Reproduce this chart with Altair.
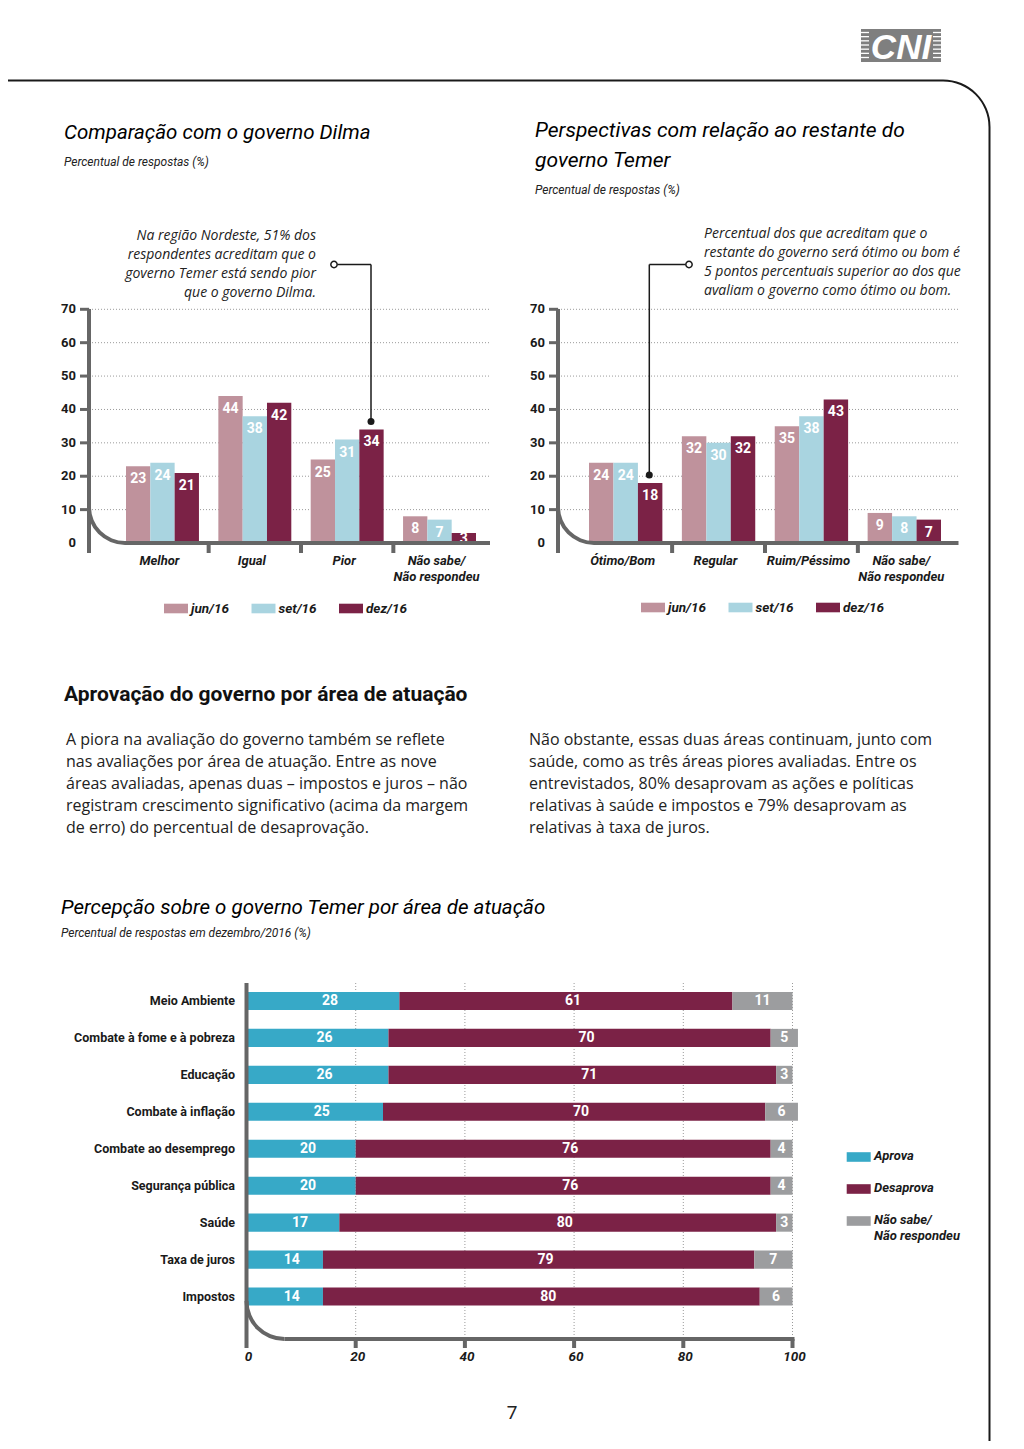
import json
import math
import altair as alt
import pandas as pd

# ---------------- data ----------------
series = ["jun/16", "set/16", "dez/16"]
series_colors = ["#bf929c", "#a9d4e0", "#7b2246"]

cmp_cats = ["Melhor", "Igual", "Pior", "Não sabe/Não respondeu"]
cmp_jun = [23, 44, 25, 8]
cmp_set = [24, 38, 31, 7]
cmp_dez = [21, 42, 34, 3]

persp_cats = ["Ótimo/Bom", "Regular", "Ruim/Péssimo", "Não sabe/Não respondeu"]
persp_jun = [24, 32, 35, 9]
persp_set = [24, 30, 38, 8]
persp_dez = [18, 32, 43, 7]

areas = ["Meio Ambiente", "Combate à fome e à pobreza", "Educação", "Combate à inflação",
         "Combate ao desemprego", "Segurança pública", "Saúde", "Taxa de juros", "Impostos"]
aprova = [28, 26, 26, 25, 20, 20, 17, 14, 14]
desaprova = [61, 70, 71, 70, 76, 76, 80, 79, 80]
nao_sabe = [11, 5, 3, 6, 4, 4, 3, 7, 6]
resp = ["Aprova", "Desaprova", "Não sabe/Não respondeu"]
resp_colors = ["#37a9c7", "#7b2246", "#9c9d9f"]

bar_y_ticks = [0, 10, 20, 30, 40, 50, 60, 70]
hbar_x_ticks = [0, 20, 40, 60, 80, 100]

cmp_title = "Comparação com o governo Dilma"
persp_title = ["Perspectivas com relação ao restante do", "governo Temer"]
subtitle = "Percentual de respostas (%)"
cmp_note = ["Na região Nordeste, 51% dos", "respondentes acreditam que o",
            "governo Temer está sendo pior", "que o governo Dilma."]
persp_note = ["Percentual dos que acreditam que o", "restante do governo será ótimo ou bom é",
              "5 pontos percentuais superior ao dos que", "avaliam o governo como ótimo ou bom."]
section_title = "Aprovação do governo por área de atuação"
para_left = ["A piora na avaliação do governo também se reflete",
             "nas avaliações por área de atuação. Entre as nove",
             "áreas avaliadas, apenas duas – impostos e juros – não",
             "registram crescimento significativo (acima da margem",
             "de erro) do percentual de desaprovação."]
para_right = ["Não obstante, essas duas áreas continuam, junto com",
              "saúde, como as três áreas piores avaliadas. Entre os",
              "entrevistados, 80% desaprovam as ações e políticas",
              "relativas à saúde e impostos e 79% desaprovam as",
              "relativas à taxa de juros."]
hbar_title = "Percepção sobre o governo Temer por área de atuação"
hbar_subtitle = "Percentual de respostas em dezembro/2016 (%)"
page_number = "7"
logo_text = "CNI"

# ---------------- style ----------------
OFF = 8
COND = "Roboto"
TITLE = "Roboto"
BODY = "'Open Sans'"
AX = "#666666"
DARK = "#1a1a1a"
RECT_PATH = "M-1,-0.4H1V0.4H-1Z"
SPLIT = "split(replace(datum.cat, 'sabe/', 'sabe/|'), '|')"

ONE = pd.DataFrame({"_": [0]})


def X(v):
    return alt.value(v - OFF)


def Y(v):
    return alt.value(v - OFF)


def text_layer(text, x, y, size, font, weight="normal", style="normal",
               align="left", color=DARK, lh=None):
    kw = dict(align=align, baseline="middle", fontSize=size, font=font,
              fontWeight=weight, fontStyle=style, color=color)
    if lh:
        kw["lineHeight"] = lh
    return alt.Chart(ONE).mark_text(**kw).encode(x=X(x), y=Y(y), text=alt.value(text))


def hrule(x1, x2, y, color=AX, w=4, dash=None):
    kw = dict(color=color, strokeWidth=w)
    if dash:
        kw["strokeDash"] = dash
    return alt.Chart(ONE).mark_rule(**kw).encode(x=X(x1), x2=X(x2), y=Y(y))


def vrule(x, y1, y2, color=AX, w=4):
    return alt.Chart(ONE).mark_rule(color=color, strokeWidth=w).encode(x=X(x), y=Y(y1), y2=Y(y2))


def corner(cx, cy, r, w, t0, t1, color=AX):
    return alt.Chart(ONE).mark_arc(theta=t0, theta2=t1, radius=r + w / 2, radius2=r - w / 2,
                                   color=color).encode(x=X(cx), y=Y(cy))


def grouped(cats, jun, st, dez, x0, x1, axis_x, x_end, leg0, leg1, leg_y):
    df = pd.DataFrame({"cat": cats * 3,
                       "serie": [s for s in series for _ in cats],
                       "v": jun + st + dez})
    p = 0.21
    xs = alt.Scale(domain=cats, range=[x0 - OFF, x1 - OFF], paddingInner=p, paddingOuter=0)
    ys = alt.Scale(domain=[0, 70], range=[543 - OFF, 309.3 - OFF], nice=False, zero=False)
    cs = alt.Scale(domain=series, range=series_colors)
    xo = alt.XOffset("serie:N", sort=series,
                     scale=alt.Scale(domain=series, paddingInner=0, paddingOuter=0))
    xenc = alt.X("cat:N", scale=xs, axis=None, sort=cats)

    ticks_df = pd.DataFrame({"t": bar_y_ticks})
    grid = alt.Chart(ticks_df).transform_filter("datum.t > 0").mark_rule(
        color="#9a9a9a", strokeDash=[1, 2], strokeWidth=1).encode(
        y=alt.Y("t:Q", scale=ys, axis=None), x=X(axis_x), x2=X(x_end))
    bars = alt.Chart(df).mark_bar().encode(
        x=xenc, xOffset=xo, y=alt.Y("v:Q", scale=ys, axis=None),
        color=alt.Color("serie:N", scale=cs, legend=None))
    vals = alt.Chart(df).transform_calculate(ly="max(datum.v, 5)").mark_text(
        baseline="middle", dy=13, color="white", font=COND, fontSize=14, fontWeight="bold").encode(
        x=xenc, xOffset=xo, y=alt.Y("ly:Q", scale=ys, axis=None), text="v:Q")
    tmarks = alt.Chart(ticks_df).transform_filter("datum.t > 0").mark_rule(
        color=AX, strokeWidth=3).encode(
        y=alt.Y("t:Q", scale=ys, axis=None), x=X(axis_x - 9), x2=X(axis_x))
    tlabels = alt.Chart(ticks_df).mark_text(
        align="right", baseline="middle", font=COND, fontSize=13, fontWeight="bold",
        color=DARK).encode(y=alt.Y("t:Q", scale=ys, axis=None), x=X(axis_x - 13), text="t:Q")
    catlab = alt.Chart(pd.DataFrame({"cat": cats})).transform_calculate(lab=SPLIT).mark_text(
        baseline="top", lineHeight=16, dx=-3, font=COND, fontSize=13, fontWeight="bold",
        fontStyle="italic", color=DARK).encode(x=xenc, y=Y(554.6), text="lab:N")
    panel = alt.layer(grid, bars, vals, tmarks, tlabels, catlab)

    # axis decoration
    n = len(cats)
    step = (x1 - x0) / (n - p)
    deco = [vrule(axis_x, 309, 553), hrule(axis_x + 36, x_end, 543),
            corner(axis_x + 36, 543 - 36, 36, 4, math.pi, 1.5 * math.pi)]
    for i in range(1, n):
        sx = x0 + i * step - p * step / 2
        deco.append(vrule(sx, 543, 553))

    # legend
    lx = alt.X("serie:N", scale=alt.Scale(type="point", domain=series,
                                          range=[leg0 - OFF, leg1 - OFF], padding=0), axis=None)
    ldf = pd.DataFrame({"serie": series})
    sw = alt.Chart(ldf).mark_point(shape=RECT_PATH, filled=True, size=576, opacity=1).encode(
        x=lx, y=Y(leg_y), color=alt.Color("serie:N", scale=cs, legend=None))
    lt = alt.Chart(ldf).mark_text(align="left", baseline="middle", dx=15, font=COND,
                                  fontSize=13.5, fontWeight="bold", fontStyle="italic",
                                  color=DARK).encode(x=lx, y=Y(leg_y), text="serie:N")
    legend = alt.layer(sw, lt)
    return [panel, legend] + deco


layers = []

# frame & logo
layers.append(hrule(0 + OFF, 943, 80.5, color=DARK, w=2))
layers.append(corner(943, 127, 46.5, 2, 0, math.pi / 2, color=DARK))
layers.append(vrule(989.5, 127, 1449, color=DARK, w=2))
layers.append(alt.Chart(ONE).mark_rect(color="#7f7f7f").encode(
    x=X(861), x2=X(941), y=Y(29), y2=Y(62)))
stripe_scale = alt.Scale(domain=[0, 6], range=[32.5 - OFF, 57.5 - OFF])
stripes = pd.DataFrame({"i": list(range(7))})
for a, b in [(861, 869), (933, 941)]:
    layers.append(alt.Chart(stripes).mark_rule(color="white", strokeWidth=1.3).encode(
        y=alt.Y("i:Q", scale=stripe_scale, axis=None), x=X(a), x2=X(b)))
layers.append(text_layer(logo_text, 901, 48, 35, "'Liberation Sans', Arial", weight="bold",
                         style="italic", align="center", color="white"))

# left chart
layers.append(text_layer(cmp_title, 64, 132.5, 20.5, TITLE, style="italic", color="#000"))
layers.append(text_layer(subtitle, 64, 162, 12, COND, style="italic", color="#222"))
layers.append(text_layer(cmp_note, 316, 235.5, 14, BODY, style="italic", align="right",
                         color="#222", lh=19))
layers += grouped(cmp_cats, cmp_jun, cmp_set, cmp_dez, 126, 476, 89, 490, 176, 351, 608.5)
layers.append(hrule(337.5, 371, 264.5, color=DARK, w=1.5))
layers.append(vrule(371, 264.5, 421.5, color=DARK, w=1.5))
layers.append(alt.Chart(ONE).mark_point(shape="circle", size=40, filled=False, color=DARK,
                                        strokeWidth=1.5, opacity=1).encode(x=X(334), y=Y(264.5)))
layers.append(alt.Chart(ONE).mark_point(shape="circle", size=49, filled=True, color=DARK,
                                        opacity=1).encode(x=X(371), y=Y(421.5)))

# right chart
layers.append(text_layer(persp_title, 535, 131, 21, TITLE, style="italic", color="#000", lh=30))
layers.append(text_layer(subtitle, 535, 190, 12, COND, style="italic", color="#222"))
layers.append(text_layer(persp_note, 704, 233.5, 14, BODY, style="italic", align="left",
                         color="#222", lh=19))
layers += grouped(persp_cats, persp_jun, persp_set, persp_dez, 589, 941, 558, 958.5, 653, 828, 607.5)
layers.append(hrule(649.3, 685.5, 264.5, color=DARK, w=1.5))
layers.append(vrule(649.3, 264.5, 475, color=DARK, w=1.5))
layers.append(alt.Chart(ONE).mark_point(shape="circle", size=40, filled=False, color=DARK,
                                        strokeWidth=1.5, opacity=1).encode(x=X(689), y=Y(264.5)))
layers.append(alt.Chart(ONE).mark_point(shape="circle", size=49, filled=True, color=DARK,
                                        opacity=1).encode(x=X(649.3), y=Y(475)))

# section text
layers.append(text_layer(section_title, 64, 695, 21, COND, weight="bold", color="#111"))
layers.append(text_layer(para_left, 66, 740, 16, BODY, color="#222", lh=22))
layers.append(text_layer(para_right, 529, 740, 16, BODY, color="#222", lh=22))

# horizontal stacked chart
layers.append(text_layer(hbar_title, 61, 908, 20.5, TITLE, style="italic", color="#000"))
layers.append(text_layer(hbar_subtitle, 61, 933, 12, COND, style="italic", color="#222"))

hdf = pd.DataFrame({"area": areas * 3,
                    "resp": [r for r in resp for _ in areas],
                    "v": aprova + desaprova + nao_sabe})
xs_b = alt.Scale(domain=[0, 100], range=[246.5 - OFF, 792.5 - OFF], nice=False, zero=False)
ys_b = alt.Scale(domain=areas, range=[982.5 - OFF, 1315 - OFF], paddingInner=0.51, paddingOuter=0.255)
cs_b = alt.Scale(domain=resp, range=resp_colors)
ord_expr = "indexof(" + json.dumps(resp, ensure_ascii=False) + ", datum.resp)"
stacked = alt.Chart(hdf).transform_calculate(ord=ord_expr).transform_stack(
    stack="v", groupby=["area"], as_=["x0", "x1"],
    sort=[alt.SortField("ord", order="ascending")]).transform_calculate(
    mid="(datum.x0 + datum.x1) / 2")
yb = alt.Y("area:N", scale=ys_b, axis=None, sort=areas)
xt_df = pd.DataFrame({"t": hbar_x_ticks})
hgrid = alt.Chart(xt_df).transform_filter("datum.t > 0").mark_rule(
    color="#9a9a9a", strokeDash=[1, 2], strokeWidth=1).encode(
    x=alt.X("t:Q", scale=xs_b, axis=None), y=Y(983), y2=Y(1339))
hbars = stacked.mark_bar().encode(
    y=yb, x=alt.X("x0:Q", scale=xs_b, axis=None), x2="x1:Q",
    color=alt.Color("resp:N", scale=cs_b, legend=None))
hvals1 = stacked.transform_filter("datum.ord < 2").mark_text(
    baseline="middle", dx=7, color="white", font=COND, fontSize=14, fontWeight="bold").encode(
    y=yb, x=alt.X("mid:Q", scale=xs_b, axis=None), text="v:Q")
hvals2 = stacked.transform_filter("datum.ord == 2").mark_text(
    baseline="middle", color="white", font=COND, fontSize=14, fontWeight="bold").encode(
    y=yb, x=alt.X("mid:Q", scale=xs_b, axis=None), text="v:Q")
haxis = alt.Chart(xt_df).transform_filter("datum.t == 0").mark_rule(
    color=AX, strokeWidth=4).encode(x=alt.X("t:Q", scale=xs_b, axis=None), y=Y(983), y2=Y(1348))
hticks = alt.Chart(xt_df).transform_filter("datum.t > 0").mark_rule(
    color=AX, strokeWidth=4).encode(x=alt.X("t:Q", scale=xs_b, axis=None), y=Y(1339), y2=Y(1348))
hlabels = alt.Chart(xt_df).mark_text(
    baseline="middle", dx=2, font=COND, fontSize=13.5, fontWeight="bold", fontStyle="italic",
    color=DARK).encode(x=alt.X("t:Q", scale=xs_b, axis=None), y=Y(1357), text="t:Q")
hcats = alt.Chart(pd.DataFrame({"area": areas})).mark_text(
    align="right", baseline="middle", font=COND, fontSize=12.5, fontWeight="bold",
    color=DARK).encode(y=yb, x=X(235), text="area:N")
layers.append(alt.layer(hgrid, hbars, hvals1, hvals2, haxis, hticks, hlabels, hcats))
layers.append(hrule(246.5 + 38, 794.5, 1339))
layers.append(corner(246.5 + 38, 1339 - 38, 38, 4, math.pi, 1.5 * math.pi))

# stacked legend
ly = alt.Y("resp:N", scale=alt.Scale(type="point", domain=resp,
                                     range=[1157 - OFF, 1221 - OFF], padding=0), axis=None)
rdf = pd.DataFrame({"resp": resp})
lsw = alt.Chart(rdf).mark_point(shape=RECT_PATH, filled=True, size=576, opacity=1).encode(
    y=ly, x=X(858.7), color=alt.Color("resp:N", scale=cs_b, legend=None))
ltx = alt.Chart(rdf).transform_calculate(
    lab="split(replace(datum.resp, 'sabe/', 'sabe/|'), '|')").mark_text(
    align="left", baseline="top", dy=-6.6, lineHeight=16, font=COND, fontSize=13,
    fontWeight="bold", fontStyle="italic", color=DARK).encode(y=ly, x=X(874), text="lab:N")
layers.append(alt.layer(lsw, ltx))

layers.append(text_layer(page_number, 512, 1413, 19, COND, align="center", color="#222"))

chart = alt.layer(*layers).resolve_scale(
    x="independent", y="independent", color="independent", xOffset="independent"
).properties(
    width=1024 - 2 * OFF, height=1449 - 2 * OFF,
    autosize=alt.AutoSizeParams(type="none"), padding=0, background="white"
).configure_view(stroke=None)

chart.save("out.html", embed_options={"renderer": "svg", "actions": False})
